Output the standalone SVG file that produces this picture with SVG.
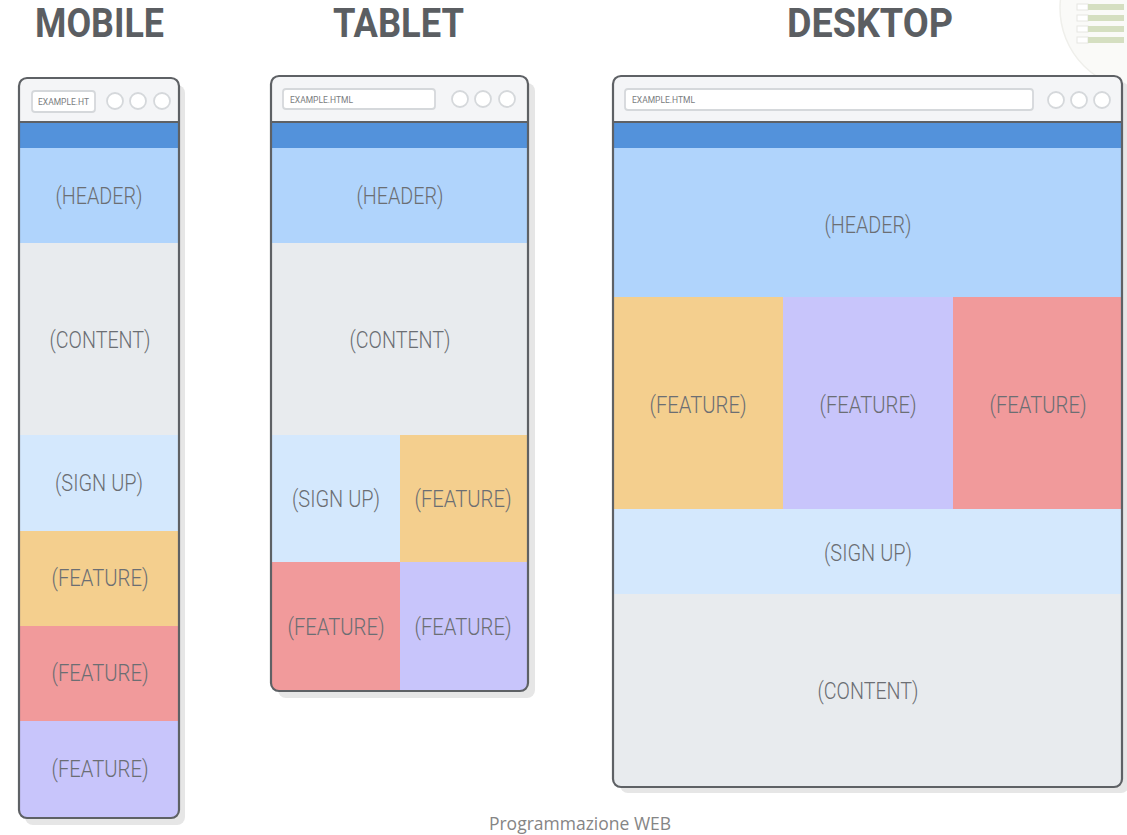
<svg xmlns="http://www.w3.org/2000/svg" width="1127" height="835" viewBox="0 0 1127 835">
<style>
.title{font-family:Roboto,"Liberation Sans",sans-serif;font-weight:700;font-size:40px;fill:#5b5e62}
.lbl{font-family:Roboto,"Liberation Sans",sans-serif;font-weight:300;font-size:24px;fill:#6b6e73;text-anchor:middle}
.url{font-family:Roboto,"Liberation Sans",sans-serif;font-weight:400;font-size:8.5px;fill:#7a7d80}
.bar{fill:#f4f5f7}
.frame{fill:none;stroke:#5e6165;stroke-width:2.2}
.shadow{fill:#e6e6e6}
.urlbox{fill:#fff;stroke:#d5d8db;stroke-width:1.8}
.dot{fill:#fff;stroke:#d5d8db;stroke-width:1.8}
.sep{stroke:#5e6165;stroke-width:2}
.nav{fill:#5392db}
.hdr{fill:#b0d4fc}
.cnt{fill:#e8ebee}
.sgn{fill:#d4e8fd}
.org{fill:#f4cf8e}
.red{fill:#f19a9b}
.pur{fill:#c8c5fb}
.foot{font-family:"Open Sans","Liberation Sans",sans-serif;font-size:17.5px;fill:#858585;text-anchor:middle}
</style>
<defs>
<clipPath id="cm"><rect x="19" y="78" width="160" height="740" rx="8"/></clipPath>
<clipPath id="ct"><rect x="271" y="76" width="257" height="615" rx="8"/></clipPath>
<clipPath id="cd"><rect x="613" y="76" width="509" height="711" rx="8"/></clipPath>
</defs>
<rect width="1127" height="835" fill="#fff"/>

<g id="logo">
<circle cx="1142" cy="8" r="82" fill="#fafaf8" stroke="#efefeb" stroke-width="1.5"/>
<g fill="#fff" stroke="#e6e6e2" stroke-width="1">
<rect x="1077" y="4" width="11" height="6"/>
<rect x="1077" y="15" width="11" height="6"/>
<rect x="1077" y="26" width="11" height="6"/>
<rect x="1077" y="37" width="11" height="6"/>
</g>
<g fill="#d5dfc1">
<rect x="1088" y="4" width="36" height="6"/>
<rect x="1088" y="15" width="36" height="6"/>
<rect x="1088" y="26" width="36" height="6"/>
<rect x="1088" y="37" width="36" height="6"/>
</g>
</g>

<text class="title" x="35" y="37" textLength="129" lengthAdjust="spacingAndGlyphs">MOBILE</text>
<text class="title" x="333" y="37" textLength="131" lengthAdjust="spacingAndGlyphs">TABLET</text>
<text class="title" x="787" y="37" textLength="166" lengthAdjust="spacingAndGlyphs">DESKTOP</text>

<g id="mobile">
<rect class="shadow" x="25" y="85" width="160" height="740" rx="8"/>
<g clip-path="url(#cm)">
<rect class="bar" x="19" y="78" width="160" height="44"/>
<rect class="nav" x="19" y="122" width="160" height="26"/>
<g id="m-header"><rect class="hdr" x="19" y="148" width="160" height="95"/><text class="lbl" x="99" y="204" textLength="87" lengthAdjust="spacingAndGlyphs">(HEADER)</text></g>
<g id="m-content"><rect class="cnt" x="19" y="243" width="160" height="192"/><text class="lbl" x="100" y="348" textLength="101" lengthAdjust="spacingAndGlyphs">(CONTENT)</text></g>
<g id="m-signup"><rect class="sgn" x="19" y="435" width="160" height="96"/><text class="lbl" x="99" y="491" textLength="88" lengthAdjust="spacingAndGlyphs">(SIGN UP)</text></g>
<g id="m-feature1"><rect class="org" x="19" y="531" width="160" height="95"/><text class="lbl" x="100" y="586" textLength="97" lengthAdjust="spacingAndGlyphs">(FEATURE)</text></g>
<g id="m-feature2"><rect class="red" x="19" y="626" width="160" height="95"/><text class="lbl" x="100" y="681" textLength="97" lengthAdjust="spacingAndGlyphs">(FEATURE)</text></g>
<g id="m-feature3"><rect class="pur" x="19" y="721" width="160" height="97"/><text class="lbl" x="100" y="777" textLength="97" lengthAdjust="spacingAndGlyphs">(FEATURE)</text></g>
</g>
<line class="sep" x1="19" y1="122" x2="179" y2="122"/>
<rect class="urlbox" x="32" y="91" width="63" height="21" rx="3"/>
<text class="url" x="38" y="105" textLength="51" lengthAdjust="spacingAndGlyphs">EXAMPLE.HT</text>
<circle class="dot" cx="115" cy="101" r="8"/>
<circle class="dot" cx="138" cy="101" r="8"/>
<circle class="dot" cx="162" cy="101" r="8"/>
<rect class="frame" x="19" y="78" width="160" height="740" rx="8"/>
</g>

<g id="tablet">
<rect class="shadow" x="278" y="83" width="257" height="615" rx="8"/>
<g clip-path="url(#ct)">
<rect class="bar" x="271" y="76" width="257" height="46"/>
<rect class="nav" x="271" y="122" width="257" height="26"/>
<g id="t-header"><rect class="hdr" x="271" y="148" width="257" height="95"/><text class="lbl" x="400" y="204" textLength="87" lengthAdjust="spacingAndGlyphs">(HEADER)</text></g>
<g id="t-content"><rect class="cnt" x="271" y="243" width="257" height="192"/><text class="lbl" x="400" y="348" textLength="101" lengthAdjust="spacingAndGlyphs">(CONTENT)</text></g>
<g id="t-signup"><rect class="sgn" x="271" y="435" width="129" height="127"/><text class="lbl" x="336" y="507" textLength="88" lengthAdjust="spacingAndGlyphs">(SIGN UP)</text></g>
<g id="t-feature1"><rect class="org" x="400" y="435" width="128" height="127"/><text class="lbl" x="463" y="507" textLength="97" lengthAdjust="spacingAndGlyphs">(FEATURE)</text></g>
<g id="t-feature2"><rect class="red" x="271" y="562" width="129" height="129"/><text class="lbl" x="336" y="635" textLength="97" lengthAdjust="spacingAndGlyphs">(FEATURE)</text></g>
<g id="t-feature3"><rect class="pur" x="400" y="562" width="128" height="129"/><text class="lbl" x="463" y="635" textLength="97" lengthAdjust="spacingAndGlyphs">(FEATURE)</text></g>
</g>
<line class="sep" x1="271" y1="122" x2="528" y2="122"/>
<rect class="urlbox" x="283" y="89" width="152" height="20" rx="3"/>
<text class="url" x="290" y="103" textLength="63" lengthAdjust="spacingAndGlyphs">EXAMPLE.HTML</text>
<circle class="dot" cx="460" cy="99" r="8"/>
<circle class="dot" cx="483" cy="99" r="8"/>
<circle class="dot" cx="507" cy="99" r="8"/>
<rect class="frame" x="271" y="76" width="257" height="615" rx="8"/>
</g>

<g id="desktop">
<rect class="shadow" x="620" y="82" width="509" height="711" rx="8"/>
<g clip-path="url(#cd)">
<rect class="bar" x="613" y="76" width="509" height="46"/>
<rect class="nav" x="613" y="122" width="509" height="26"/>
<g id="d-header"><rect class="hdr" x="613" y="148" width="509" height="149"/><text class="lbl" x="868" y="233" textLength="87" lengthAdjust="spacingAndGlyphs">(HEADER)</text></g>
<g id="d-feature1"><rect class="org" x="613" y="297" width="170" height="212"/><text class="lbl" x="698" y="413" textLength="97" lengthAdjust="spacingAndGlyphs">(FEATURE)</text></g>
<g id="d-feature2"><rect class="pur" x="783" y="297" width="170" height="212"/><text class="lbl" x="868" y="413" textLength="97" lengthAdjust="spacingAndGlyphs">(FEATURE)</text></g>
<g id="d-feature3"><rect class="red" x="953" y="297" width="169" height="212"/><text class="lbl" x="1038" y="413" textLength="97" lengthAdjust="spacingAndGlyphs">(FEATURE)</text></g>
<g id="d-signup"><rect class="sgn" x="613" y="509" width="509" height="85"/><text class="lbl" x="868" y="561" textLength="88" lengthAdjust="spacingAndGlyphs">(SIGN UP)</text></g>
<g id="d-content"><rect class="cnt" x="613" y="594" width="509" height="193"/><text class="lbl" x="868" y="699" textLength="101" lengthAdjust="spacingAndGlyphs">(CONTENT)</text></g>
</g>
<line class="sep" x1="613" y1="122" x2="1122" y2="122"/>
<rect class="urlbox" x="625" y="89" width="408" height="21" rx="3"/>
<text class="url" x="632" y="103" textLength="63" lengthAdjust="spacingAndGlyphs">EXAMPLE.HTML</text>
<circle class="dot" cx="1056" cy="100" r="8"/>
<circle class="dot" cx="1079" cy="100" r="8"/>
<circle class="dot" cx="1102" cy="100" r="8"/>
<rect class="frame" x="613" y="76" width="509" height="711" rx="8"/>
</g>

<text class="foot" x="580" y="830">Programmazione WEB</text>
</svg>
